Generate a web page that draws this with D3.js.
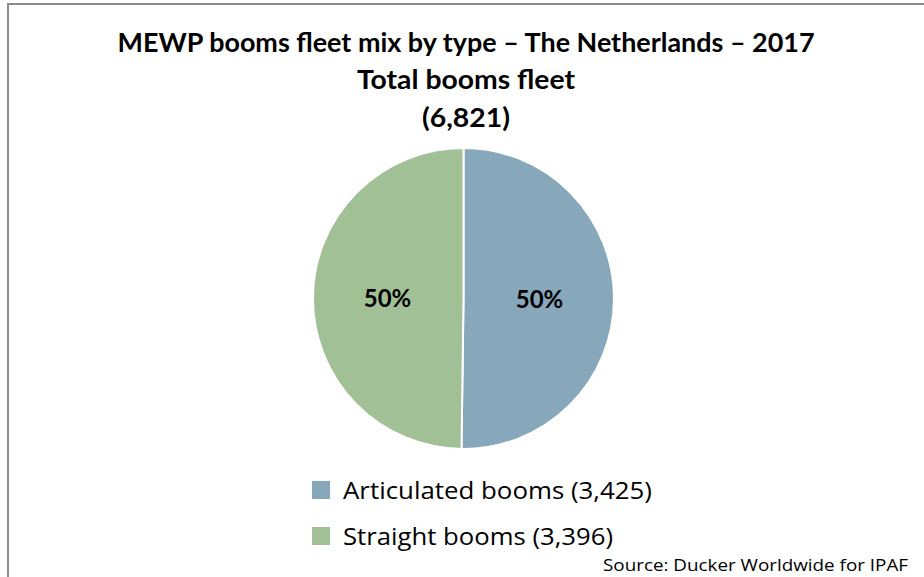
<!DOCTYPE html>
<html lang="en">
<head>
    <meta charset="UTF-8">
    <title>MEWP booms fleet mix by type</title>
    <script src="https://cdn.jsdelivr.net/npm/d3@7/dist/d3.min.js"></script>
    <style>
        body { margin: 0; background: #fff; }
        svg { display: block; }
        .title { font-family: Lato, "Noto Sans", sans-serif; font-weight: bold; font-size: 26px; fill: #000; }
        .legend, .source { font-family: "Open Sans", "Noto Sans", sans-serif; fill: #000; }
        .pct { font-family: Lato, "Noto Sans", sans-serif; font-weight: bold; font-size: 24px; }
    </style>
</head>
<body>
<svg id="chart" width="924" height="577"></svg>
<script>
    // chart data
    const titleLines = ["MEWP booms fleet mix by type \u2013 The Netherlands \u2013 2017", "Total booms fleet", "(6,821)"];
    const categories = ["Articulated booms", "Straight booms"];
    const values = [3425, 3396];
    const colors = ["#87a7bb", "#a1c096"];
    const sourceText = "Source: Ducker Worldwide for IPAF";

    const svg = d3.select("#chart");

    // frame (only top and left edges are visible)
    svg.append("path")
        .attr("d", "M8,577 L8,4 L924,4")
        .attr("fill", "none")
        .attr("stroke", "#8c8c8c")
        .attr("stroke-width", 2);

    // titles
    const titleY = [52, 89, 127];
    const titleW = [697, 218, 88];
    titleLines.forEach((t, i) => {
        svg.append("text")
            .attr("class", "title")
            .attr("x", 466)
            .attr("y", titleY[i])
            .attr("text-anchor", "middle")
            .attr("textLength", titleW[i])
            .attr("lengthAdjust", "spacingAndGlyphs")
            .text(t);
    });

    // pie
    const cx = 463.5, cy = 298.5, r = 150.5;
    const total = d3.sum(values);
    const data = categories.map((c, i) => ({ name: c, value: values[i], color: colors[i] }));

    const pie = d3.pie().sort(null).value(d => d.value);
    const arc = d3.arc().innerRadius(0).outerRadius(r);
    const labelArc = d3.arc().innerRadius(r * 0.505).outerRadius(r * 0.505);

    const g = svg.append("g").attr("transform", `translate(${cx},${cy})`);
    const arcs = pie(data);

    g.selectAll("path")
        .data(arcs)
        .enter()
        .append("path")
        .attr("d", arc)
        .attr("fill", d => d.data.color)
        .attr("stroke", "#fff")
        .attr("stroke-width", 2);

    g.selectAll("text")
        .data(arcs)
        .enter()
        .append("text")
        .attr("class", "pct")
        .attr("transform", d => `translate(${labelArc.centroid(d)})`)
        .attr("text-anchor", "middle")
        .attr("dy", "0.36em")
        .text(d => d3.format(".0%")(d.data.value / total));

    // legend
    const legend = svg.append("g").attr("class", "legend");
    const rowY = [490, 536];
    const legendW = [309, 270];
    data.forEach((d, i) => {
        legend.append("rect")
            .attr("x", 312)
            .attr("y", rowY[i] - 9)
            .attr("width", 18)
            .attr("height", 18)
            .attr("fill", d.color);
        legend.append("text")
            .attr("x", 343)
            .attr("y", rowY[i] + 9)
            .attr("font-size", 23)
            .attr("textLength", legendW[i])
            .attr("lengthAdjust", "spacingAndGlyphs")
            .text(`${d.name} (${d3.format(",")(d.value)})`);
    });

    // source note
    svg.append("text")
        .attr("class", "source")
        .attr("x", 603)
        .attr("y", 571)
        .attr("font-size", 17)
        .attr("textLength", 305)
        .attr("lengthAdjust", "spacingAndGlyphs")
        .text(sourceText);
</script>
</body>
</html>
